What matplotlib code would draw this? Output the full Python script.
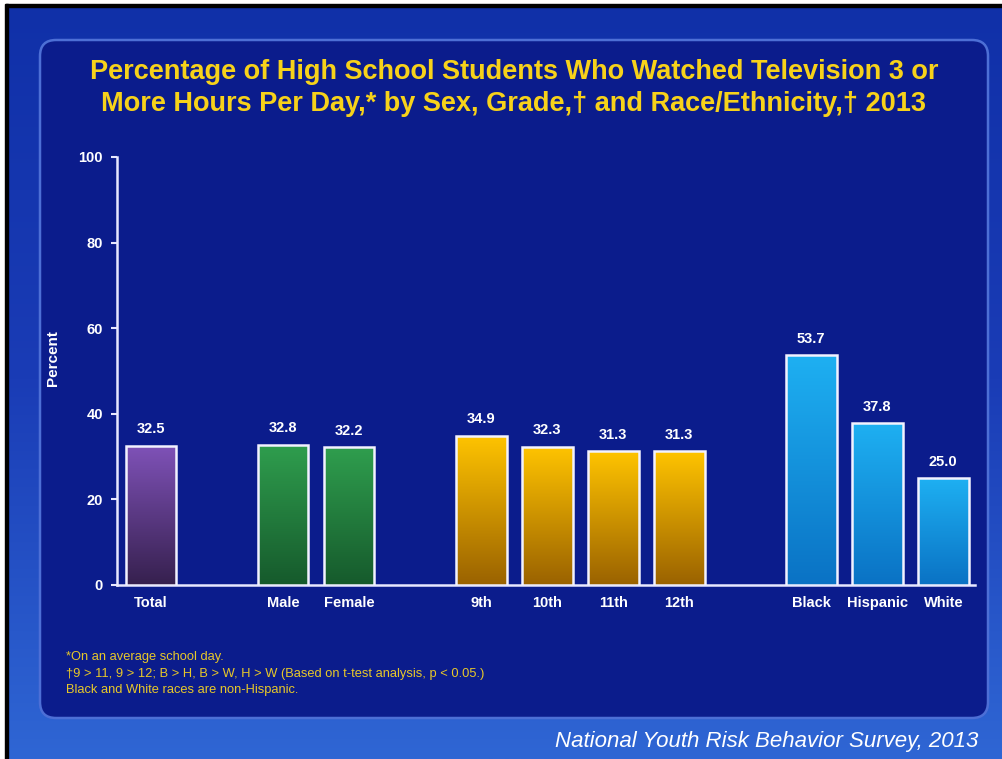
import numpy as np
import matplotlib.pyplot as plt
from matplotlib.patches import FancyBboxPatch, Rectangle
from matplotlib.colors import LinearSegmentedColormap

plt.rcParams['font.family'] = ['Liberation Sans', 'DejaVu Sans']

categories = ['Total', 'Male', 'Female', '9th', '10th', '11th', '12th', 'Black', 'Hispanic', 'White']
values = [32.5, 32.8, 32.2, 34.9, 32.3, 31.3, 31.3, 53.7, 37.8, 25.0]
positions = [0, 2, 3, 5, 6, 7, 8, 10, 11, 12]
groups = ['total', 'sex', 'sex', 'grade', 'grade', 'grade', 'grade', 'race', 'race', 'race']
yticks = [0, 20, 40, 60, 80, 100]

title = ('Percentage of High School Students Who Watched Television 3 or\n'
         'More Hours Per Day,* by Sex, Grade,\u2020 and Race/Ethnicity,\u2020 2013')
notes = ['*On an average school day.',
         '\u20209 > 11, 9 > 12; B > H, B > W, H > W (Based on t-test analysis, p < 0.05.)',
         'Black and White races are non-Hispanic.']
source = 'National Youth Risk Behavior Survey, 2013'

# top colour, bottom colour of each bar gradient
grad = {'total': ('#7f52b8', '#36204e'),
        'sex': ('#2f9e4e', '#165a2c'),
        'grade': ('#ffc400', '#9a6200'),
        'race': ('#1eb0f2', '#0a72c4')}

W, H = 1003, 759
fig = plt.figure(figsize=(W / 100, H / 100), dpi=100)

# slide background
bg = fig.add_axes([0, 0, 1, 1])
bg.set_xlim(0, W)
bg.set_ylim(H, 0)
bg.axis('off')
bgcmap = LinearSegmentedColormap.from_list('bg', ['#1030a8', '#1a3cb6', '#2f66d4'])
bg.imshow(np.linspace(0, 1, 256).reshape(-1, 1), cmap=bgcmap, aspect='auto',
          extent=[0, W, H, 0], zorder=0)
bg.add_patch(Rectangle((0, 0), W, 4, color='white', zorder=1))
bg.add_patch(Rectangle((0, 4), W, 3, color='black', zorder=1))
bg.add_patch(Rectangle((0, 0), 5, H, color='white', zorder=1))
bg.add_patch(Rectangle((5, 4), 3, H, color='black', zorder=1))
bg.add_patch(FancyBboxPatch((40, 40), 948, 678, boxstyle='round,pad=0,rounding_size=16',
                            facecolor='#0b1c8c', edgecolor='#4d6fd6', linewidth=1.8, zorder=2))

bg.text(514, 88, title, color='#f7d21a', fontsize=19.5, fontweight='bold',
        ha='center', va='center', linespacing=1.3, zorder=3)
for i, line in enumerate(notes):
    bg.text(66, 657 + i * 16.5, line, color='#e8c829', fontsize=9.3, ha='left', va='center', zorder=3)
bg.text(978, 741, source, color='white', fontsize=16, style='italic',
        ha='right', va='center', zorder=3)

# chart
ax = fig.add_axes([117 / W, 1 - 585 / H, (975 - 117) / W, (585 - 157) / H])
ax.patch.set_alpha(0)
bw = 0.77
ramp = np.linspace(1, 0, 256).reshape(-1, 1)
for p, v, g in zip(positions, values, groups):
    cmap = LinearSegmentedColormap.from_list(g, [grad[g][1], grad[g][0]])
    rect = Rectangle((p - bw / 2, 0), bw, v, facecolor='none', edgecolor='#f2f2ff',
                     linewidth=1.8, zorder=4)
    ax.add_patch(rect)
    im = ax.imshow(ramp, cmap=cmap, aspect='auto', extent=[p - bw / 2, p + bw / 2, 0, v], zorder=3)
    im.set_clip_path(rect)
    ax.text(p, v + 2.2, f'{v:.1f}', color='white', fontsize=10.5, fontweight='bold',
            ha='center', va='bottom', zorder=5)
ax.set_xlim(-0.515, 12.48)
ax.set_ylim(0, 100)

ax.set_xticks(positions)
ax.set_xticklabels(categories)
ax.set_yticks(yticks)
ax.tick_params(axis='x', length=0, pad=8, labelcolor='white', labelsize=10.5)
ax.tick_params(axis='y', length=4, width=1.5, color='#e8e8ff', labelcolor='white', labelsize=10.5, pad=6)
for lab in ax.get_xticklabels() + ax.get_yticklabels():
    lab.set_fontweight('bold')
for s in ['top', 'right']:
    ax.spines[s].set_visible(False)
for s in ['left', 'bottom']:
    ax.spines[s].set_color('#e8e8ff')
    ax.spines[s].set_linewidth(1.8)
ax.set_ylabel('Percent', color='white', fontsize=11, fontweight='bold')
ax.yaxis.set_label_coords(-0.066, 0.53)

fig.savefig('out.png', dpi=100)
